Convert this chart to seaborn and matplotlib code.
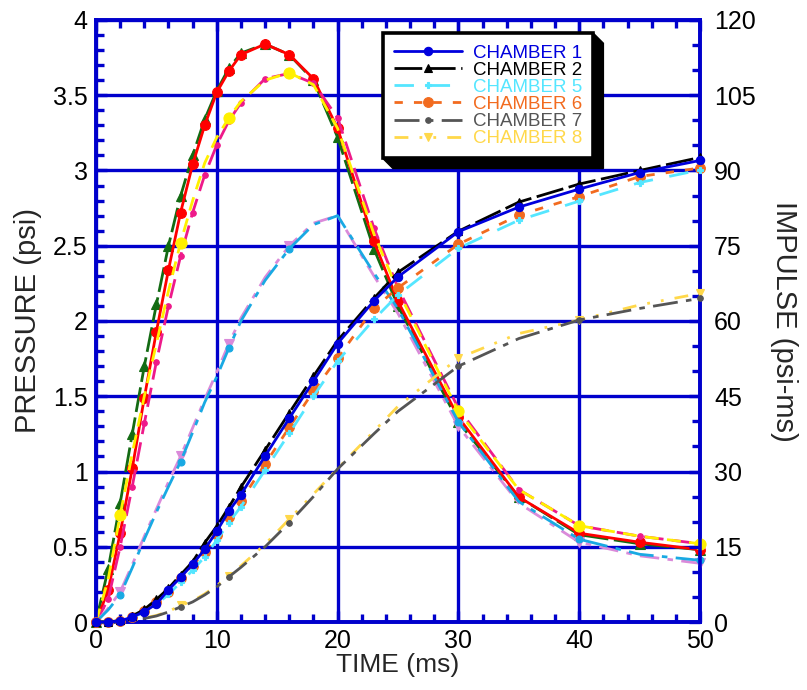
import matplotlib
matplotlib.use("Agg")
import matplotlib.pyplot as plt
import seaborn as sns
from matplotlib.patches import Polygon
from matplotlib.ticker import MultipleLocator, FormatStrFormatter

# ---------------------------------------------------------------- data
time_ms = [0, 1, 2, 3, 4, 5, 6, 7, 8, 9, 10, 11, 12, 14, 16, 18, 20, 23, 25, 30, 35, 40, 45, 50]

# pressure histories (psi), left axis
p_red = [0, 0.21, 0.59, 1.02, 1.49, 1.93, 2.34, 2.72, 3.04, 3.30, 3.52, 3.66, 3.77, 3.84,
         3.77, 3.61, 3.28, 2.53, 2.13, 1.36, 0.83, 0.59, 0.53, 0.48]
p_green = [0, 0.35, 0.79, 1.25, 1.70, 2.11, 2.50, 2.83, 3.10, 3.34, 3.53, 3.68, 3.78, 3.84,
           3.77, 3.60, 3.22, 2.48, 2.10, 1.33, 0.83, 0.58, 0.52, 0.48]
p_yellow = [0, 0.28, 0.71, 1.12, 1.50, 1.85, 2.20, 2.52, 2.80, 3.05, 3.22, 3.35, 3.46, 3.60,
            3.65, 3.57, 3.28, 2.58, 2.20, 1.40, 0.88, 0.64, 0.57, 0.52]
p_pink = [0, 0.15, 0.50, 0.90, 1.32, 1.73, 2.10, 2.43, 2.72, 2.97, 3.17, 3.33, 3.45, 3.61,
          3.645, 3.58, 3.35, 2.62, 2.22, 1.42, 0.88, 0.64, 0.57, 0.52]
p_sky = [0, 0.08, 0.18, 0.36, 0.55, 0.73, 0.90, 1.065, 1.26, 1.46, 1.63, 1.82, 2.00, 2.27,
         2.48, 2.64, 2.70, 2.32, 2.08, 1.33, 0.80, 0.55, 0.45, 0.41]
p_orchid = [0, 0.09, 0.20, 0.38, 0.57, 0.75, 0.93, 1.10, 1.29, 1.48, 1.66, 1.85, 2.02, 2.29,
            2.50, 2.65, 2.70, 2.30, 2.05, 1.30, 0.79, 0.53, 0.44, 0.39]

# impulse histories (psi-ms), right axis
imp_ch1 = [0, 0, 0.2, 1.0, 2.05, 3.6, 6.4, 8.9, 11.5, 14.5, 18.1, 22.1, 25.4, 33.1,
           40.6, 48.0, 55.5, 64.0, 68.8, 77.8, 82.7, 86.3, 89.6, 92.0]
imp_ch2 = [0, 0, 0.3, 1.2, 2.5, 4.5, 6.7, 9.4, 12.0, 15.8, 19.1, 22.9, 26.9, 34.3,
           41.7, 49.0, 56.1, 64.5, 69.7, 77.9, 83.7, 87.3, 90.0, 92.6]
imp_ch5 = [0, 0, 0.1, 0.9, 2.0, 3.5, 5.5, 7.9, 10.3, 13.0, 16.3, 19.8, 23.0, 30.3,
           37.6, 45.0, 52.0, 60.3, 65.2, 74.5, 80.1, 83.9, 87.6, 90.1]
imp_ch6 = [0, 0, 0.1, 1.0, 2.2, 3.9, 6.0, 8.8, 11.2, 14.0, 17.3, 20.9, 24.2, 31.5,
           38.8, 46.0, 52.6, 62.5, 66.6, 75.3, 81.1, 84.8, 88.8, 90.5]
imp_ch7 = [0, 0, 0, 0.3, 0.7, 1.2, 2.0, 3.0, 4.0, 5.4, 7.0, 9.0, 10.9, 15.0,
           19.8, 25.0, 30.5, 37.5, 42.0, 51.0, 56.5, 60.2, 62.5, 64.5]
imp_ch8 = [0, 0, 0, 0.3, 0.8, 1.3, 2.1, 3.3, 4.2, 5.6, 7.3, 9.1, 11.2, 15.5,
           20.5, 25.5, 30.6, 38.0, 43.0, 52.6, 57.5, 60.2, 63.2, 65.5]

chamber_labels = ["CHAMBER 1", "CHAMBER 2", "CHAMBER 5", "CHAMBER 6", "CHAMBER 7", "CHAMBER 8"]

# ---------------------------------------------------------------- styling
sns.set_style("white")
plt.rcParams["font.family"] = ["Liberation Sans", "DejaVu Sans"]

FRAME = "#0000CC"
# sample indices that carry a marker on the sparsely marked traces (t = 2, 7, 11, 16, 30, 40, 50)
sparse = [2, 7, 11, 14, 19, 21, 23]

pressure_styles = [
    (p_green,  dict(color="#136B13", linestyle=(0, (9, 2)), marker="^", markersize=7, lw=2.0)),
    (p_red,    dict(color="#FF0000", linestyle="-", marker="o", markersize=7, lw=2.0)),
    (p_pink,   dict(color="#EE1A8A", linestyle=(0, (7, 3)), marker="o", markersize=4, lw=2.0)),
    (p_yellow, dict(color="#FFF000", linestyle=(0, (5, 3)), marker="o", markersize=8, lw=2.0,
                    markevery=sparse)),
    (p_orchid, dict(color="#DA8ADA", linestyle=(0, (7, 3, 2, 3)), marker="v", markersize=7, lw=2.0,
                    markevery=sparse)),
    (p_sky,    dict(color="#19A9E3", linestyle=(0, (9, 3, 2, 3)), marker="o", markersize=5, lw=2.0,
                    markevery=sparse)),
]

impulse_styles = [
    (imp_ch8, dict(color="#FFD84A", linestyle=(0, (5, 4, 1, 4, 1, 4)), marker="v", markersize=6, lw=2.0,
                   markevery=sparse)),
    (imp_ch7, dict(color="#555555", linestyle=(0, (9, 3, 2, 3)), marker="o", markersize=4, lw=2.0,
                   markevery=sparse)),
    (imp_ch6, dict(color="#F26B1F", linestyle=(0, (3, 4)), marker="o", markersize=7, lw=2.0)),
    (imp_ch5, dict(color="#55E6FF", linestyle=(0, (7, 6)), marker="P", markersize=5, lw=2.0)),
    (imp_ch2, dict(color="#000000", linestyle=(0, (10, 2)), marker="^", markersize=6, lw=2.0)),
    (imp_ch1, dict(color="#0000DD", linestyle="-", marker="o", markersize=6, lw=2.0)),
]
impulse_order = [imp_ch1, imp_ch2, imp_ch5, imp_ch6, imp_ch7, imp_ch8]

fig = plt.figure(figsize=(8.07, 6.90), dpi=100)
ax = fig.add_axes([96 / 807, 68 / 690, 604 / 807, 602 / 690])
ax2 = ax.twinx()
ax2.patch.set_visible(False)

for vals, st in pressure_styles:
    sns.lineplot(x=time_ms, y=vals, ax=ax, markeredgecolor=st["color"],
                 markeredgewidth=0.8, clip_on=False, zorder=3, **st)

handles = {}
for vals, st in impulse_styles:
    sns.lineplot(x=time_ms, y=vals, ax=ax2, markeredgecolor=st["color"],
                 markeredgewidth=0.8, clip_on=False, zorder=3, **st)
    handles[id(vals)] = ax2.lines[-1]

# ---------------------------------------------------------------- axes
ax.set_xlim(0, 50)
ax.set_ylim(0, 4)
ax2.set_ylim(0, 120)

ax.xaxis.set_major_locator(MultipleLocator(10))
ax.xaxis.set_minor_locator(MultipleLocator(2))
ax.yaxis.set_major_locator(MultipleLocator(0.5))
ax.yaxis.set_minor_locator(MultipleLocator(0.1))
ax.yaxis.set_major_formatter(FormatStrFormatter("%g"))
ax2.yaxis.set_major_locator(MultipleLocator(15))
ax2.yaxis.set_minor_locator(MultipleLocator(5))

ax.grid(True, which="major", color=FRAME, lw=2.4, zorder=1)
ax.set_axisbelow(True)

for a in (ax, ax2):
    for sp in a.spines.values():
        sp.set_color(FRAME)
        sp.set_linewidth(2.6)
        sp.set_visible(True)

ax.tick_params(which="both", direction="in", color=FRAME, labelcolor="black",
               top=True, bottom=True, left=True, right=False, labelsize=18)
ax.tick_params(axis="x", pad=5)
ax.tick_params(axis="y", pad=6)
ax.tick_params(which="major", length=8, width=2.4)
ax.tick_params(which="minor", length=6, width=2.4)
ax2.tick_params(which="both", direction="in", color=FRAME, labelcolor="black",
                right=True, left=False, labelsize=18, pad=10)
ax2.tick_params(which="major", length=8, width=2.4)
ax2.tick_params(which="minor", length=6, width=2.4)

ax.set_xlabel("TIME (ms)", fontsize=19, labelpad=0)
ax.set_ylabel("PRESSURE (psi)", fontsize=21, labelpad=8)
ax2.set_ylabel("IMPULSE (psi-ms)", fontsize=21, rotation=270, va="bottom", labelpad=10)

# ---------------------------------------------------------------- legend
leg_handles = [handles[id(v)] for v in impulse_order]
leg = ax2.legend(leg_handles, chamber_labels, loc="upper left",
                 bbox_to_anchor=(0.475, 0.978), fontsize=13.5, frameon=True,
                 fancybox=False, framealpha=1, edgecolor="black",
                 handlelength=3.6, handletextpad=0.6, labelspacing=0.0,
                 borderpad=0.6, borderaxespad=0, numpoints=1)
leg.get_frame().set_linewidth(2.6)
leg.set_zorder(10)
for txt, h in zip(leg.get_texts(), leg_handles):
    txt.set_color(h.get_color())

# solid drop shadow behind the legend box
fig.canvas.draw()
bb = leg.get_window_extent()
d = 10
shadow = Polygon([(bb.x1, bb.y1), (bb.x1 + d, bb.y1 - d), (bb.x1 + d, bb.y0 - d),
                  (bb.x0 + d, bb.y0 - d), (bb.x0, bb.y0)],
                 closed=True, transform=None, facecolor="black", edgecolor="black",
                 zorder=9, clip_on=False)
ax2.add_artist(shadow)

fig.savefig("out.png", dpi=100)
